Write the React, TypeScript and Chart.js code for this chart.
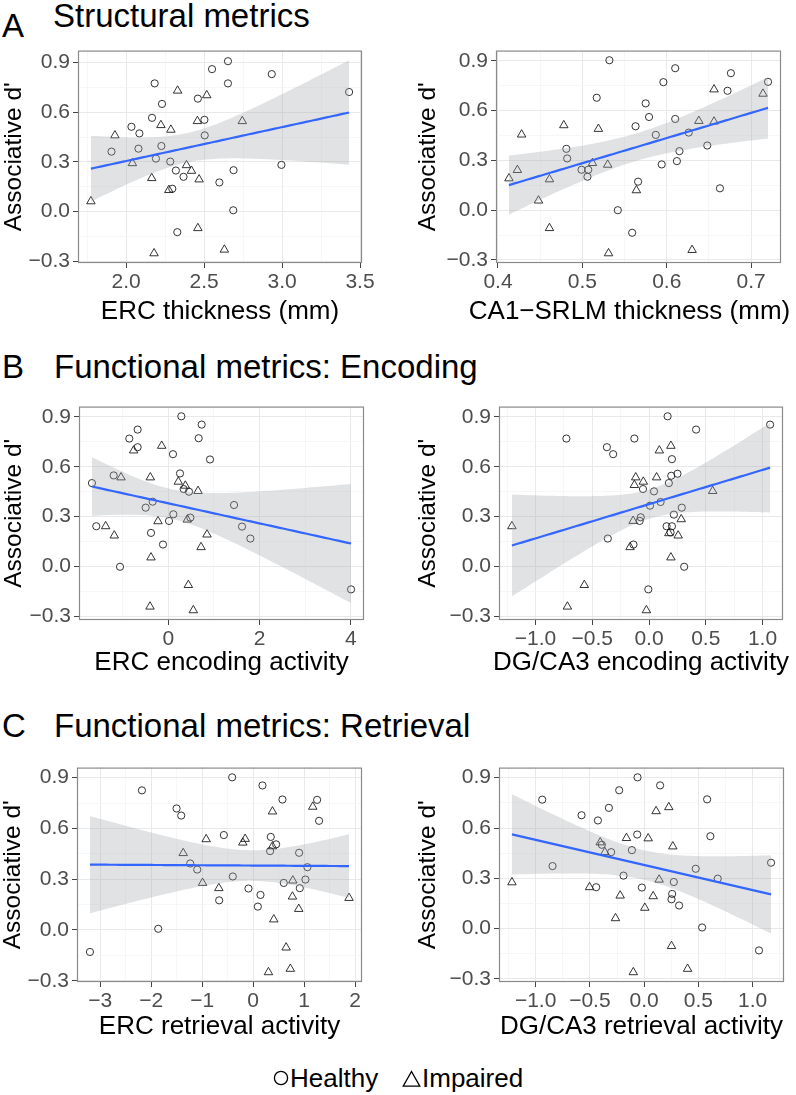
import React, { useEffect, useRef } from "react";
import { Chart, registerables } from "chart.js";

Chart.register(...registerables);

const FONT = '"Liberation Sans", Arial, Helvetica, sans-serif';
Chart.defaults.font.family = FONT;

// ---------------- Data ----------------
// A left: ERC thickness (mm)
const ercThickHealthyX = [3.43, 2.934, 2.996, 2.653, 2.551, 2.653, 2.46, 2.502, 2.504, 2.183, 2.23, 2.166, 2.034, 2.085, 2.079, 1.906, 2.226, 2.191, 2.283, 2.319, 2.368, 2.296, 2.598, 2.689, 2.687, 2.328];
const ercThickHealthyY = [0.722, 0.83, 0.282, 0.908, 0.86, 0.774, 0.682, 0.554, 0.46, 0.774, 0.65, 0.566, 0.512, 0.472, 0.38, 0.362, 0.396, 0.32, 0.302, 0.248, 0.21, 0.138, 0.176, 0.25, 0.008, -0.124];
const ercThickImpairedX = [1.774, 1.928, 2.04, 2.164, 2.179, 2.223, 2.287, 2.33, 2.274, 2.387, 2.419, 2.468, 2.457, 2.517, 2.745, 2.46, 2.63];
const ercThickImpairedY = [0.062, 0.46, 0.292, 0.202, -0.252, 0.522, 0.494, 0.73, 0.13, 0.28, 0.246, 0.194, 0.546, 0.702, 0.546, -0.1, -0.23];

// A right: CA1-SRLM thickness (mm)
const ca1HealthyX = [0.532, 0.517, 0.61, 0.596, 0.676, 0.72, 0.672, 0.575, 0.579, 0.563, 0.61, 0.587, 0.626, 0.648, 0.615, 0.612, 0.594, 0.481, 0.482, 0.499, 0.507, 0.506, 0.566, 0.663, 0.542, 0.559];
const ca1HealthyY = [0.904, 0.678, 0.856, 0.772, 0.826, 0.774, 0.72, 0.644, 0.562, 0.506, 0.55, 0.454, 0.468, 0.39, 0.356, 0.296, 0.276, 0.37, 0.312, 0.244, 0.244, 0.202, 0.172, 0.132, 0.0, -0.136];
const ca1ImpairedX = [0.413, 0.423, 0.428, 0.448, 0.461, 0.461, 0.478, 0.512, 0.519, 0.53, 0.531, 0.564, 0.63, 0.638, 0.656, 0.656, 0.714];
const ca1ImpairedY = [0.192, 0.242, 0.456, 0.058, 0.186, -0.108, 0.512, 0.284, 0.49, 0.274, -0.26, 0.12, -0.24, 0.538, 0.534, 0.728, 0.702];

// B left: ERC encoding activity
const ercEncHealthyX = [-1.675, -1.58, -1.199, -1.06, -0.856, -0.673, -0.673, -0.497, -0.344, -0.38, -0.117, 0.102, 0.11, 0.015, 0.285, 0.256, 0.336, 0.453, 0.483, 0.731, 0.665, 0.914, 1.441, 1.616, 1.799, 4.007];
const ercEncHealthyY = [0.502, 0.242, 0.548, -0.002, 0.77, 0.824, 0.718, 0.354, 0.39, 0.202, 0.132, 0.676, 0.314, 0.274, 0.904, 0.56, 0.466, 0.45, 0.294, 0.854, 0.772, 0.644, 0.37, 0.24, 0.168, -0.138];
const ercEncImpairedX = [-1.375, -1.185, -1.038, -0.761, -0.395, -0.38, -0.402, -0.227, -0.146, 0.219, 0.373, 0.417, 0.439, 0.548, 0.651, 0.717, 0.848];
const ercEncImpairedY = [0.242, 0.186, 0.536, 0.698, 0.536, 0.054, -0.242, 0.272, 0.726, 0.51, 0.486, 0.282, -0.112, -0.264, 0.454, 0.116, 0.192];

// B right: DG/CA3 encoding activity
const dgEncHealthyX = [-0.728, -0.371, -0.316, -0.129, 0.164, 0.415, 1.067, 0.202, 0.196, 0.251, 0.175, -0.053, 0.044, 0.009, 0.102, 0.289, 0.219, -0.073, -0.082, 0.155, 0.202, 0.19, -0.363, -0.137, 0.31, -0.006];
const dgEncHealthyY = [0.77, 0.718, 0.676, 0.77, 0.904, 0.824, 0.854, 0.646, 0.546, 0.558, 0.502, 0.466, 0.452, 0.366, 0.388, 0.354, 0.312, 0.296, 0.274, 0.242, 0.242, 0.205, 0.168, 0.132, -0.002, -0.138];
const dgEncImpairedX = [-1.208, -0.57, -0.719, -0.023, -0.167, -0.14, -0.129, -0.117, -0.05, 0.067, 0.091, 0.193, 0.193, 0.175, 0.257, 0.284, 0.561];
const dgEncImpairedY = [0.242, -0.112, -0.242, -0.264, 0.116, 0.274, 0.49, 0.536, 0.51, 0.536, 0.698, 0.726, 0.054, 0.2, 0.186, 0.284, 0.454];

// C left: ERC retrieval activity
const ercRetHealthyX = [-2.183, -1.503, -1.412, -1.863, -3.203, -1.235, -1.098, -0.575, -0.412, -0.399, -0.092, -0.667, 0.144, 0.092, 0.183, 0.575, 0.346, 0.333, 0.451, 0.601, 0.902, 1.065, 1.026, 0.915, 1.255, 1.294];
const ercRetHealthyY = [0.825, 0.718, 0.676, 0.007, -0.13, 0.393, 0.357, 0.561, 0.902, 0.316, 0.245, 0.175, 0.207, 0.138, 0.854, 0.771, 0.55, 0.466, 0.506, 0.278, 0.456, 0.371, 0.298, 0.247, 0.769, 0.645];
const ercRetImpairedX = [-1.373, -0.922, -0.993, -0.673, -0.203, -0.157, 0.379, 0.379, 0.778, 0.771, 0.895, 0.405, 0.647, 1.17, 1.882, 0.3, 0.73];
const ercRetImpairedY = [0.454, 0.536, 0.278, 0.247, 0.516, 0.538, 0.7, 0.494, 0.292, 0.197, 0.124, 0.062, -0.104, 0.728, 0.189, -0.25, -0.23];

// C right: DG/CA3 retrieval activity
const dgRetHealthyX = [-0.939, -0.844, -0.577, -0.426, -0.325, -0.23, -0.061, 0.147, 0.58, 0.61, -0.064, -0.113, -0.304, -0.39, 0.475, 0.678, 1.169, -0.19, -0.442, -0.021, 0.273, 0.258, 0.252, 0.322, 0.534, 1.058];
const dgRetHealthyY = [0.769, 0.373, 0.676, 0.645, 0.72, 0.825, 0.902, 0.854, 0.771, 0.551, 0.561, 0.468, 0.456, 0.5, 0.357, 0.298, 0.393, 0.316, 0.247, 0.245, 0.278, 0.207, 0.175, 0.138, 0.007, -0.13];
const dgRetImpairedX = [-1.218, -0.503, -0.405, -0.362, -0.163, 0.037, 0.11, 0.227, 0.264, 0.138, -0.221, 0.083, 0.006, -0.264, 0.252, -0.1, 0.4];
const dgRetImpairedY = [0.276, 0.247, 0.514, 0.456, 0.54, 0.538, 0.7, 0.724, 0.49, 0.292, 0.197, 0.193, 0.124, 0.062, -0.104, -0.26, -0.24];

// Axis ticks
const yMajor = [-0.3, 0, 0.3, 0.6, 0.9];
const yLabels = ["\u22120.3", "0.0", "0.3", "0.6", "0.9"];
const yMinor = [-0.15, 0.15, 0.45, 0.75];

const ercThickTicks = [2.0, 2.5, 3.0, 3.5];
const ercThickLabels = ["2.0", "2.5", "3.0", "3.5"];
const ercThickMinor = [1.75, 2.25, 2.75, 3.25];

const ca1Ticks = [0.4, 0.5, 0.6, 0.7];
const ca1Labels = ["0.4", "0.5", "0.6", "0.7"];
const ca1Minor = [0.45, 0.55, 0.65];

const ercEncTicks = [0, 2, 4];
const ercEncLabels = ["0", "2", "4"];
const ercEncMinor = [-1, 1, 3];

const dgTicks = [-1.0, -0.5, 0.0, 0.5, 1.0];
const dgLabels = ["\u22121.0", "\u22120.5", "0.0", "0.5", "1.0"];
const dgEncMinor = [-1.25, -0.75, -0.25, 0.25, 0.75];
const dgRetMinor = [-1.25, -0.75, -0.25, 0.25, 0.75, 1.25];

const ercRetTicks = [-3, -2, -1, 0, 1, 2];
const ercRetLabels = ["\u22123", "\u22122", "\u22121", "0", "1", "2"];
const ercRetMinor = [-2.5, -1.5, -0.5, 0.5, 1.5];

const Y_TITLE = "Associative d'";
const LEGEND_LABELS = ["Healthy", "Impaired"];

// ---------------- Styling constants ----------------
const Y_TITLE_SIZE = 24.5;
const X_TITLE_SIZE = 26;
const TICK_SIZE = 21;
const HEAD_SIZE = 33;
const T_CRIT = 2.02; // t(0.975, df ~ 41) used by lm smoother
const PAD_TOP = 14;
const PAD_RIGHT = 26;

type Frame = { left: number; top: number; width: number; height: number };
type Panel = {
  id: string;
  hx: number[]; hy: number[]; ix: number[]; iy: number[];
  xTicks: number[]; xLabels: string[]; xMinor: number[];
  xTitle: string;
  frame: Frame;
  yTitleCX: number;
  xTitleCY: number;
  xTitleShift?: number;
};

const panels: Panel[] = [
  { id: "a1", hx: ercThickHealthyX, hy: ercThickHealthyY, ix: ercThickImpairedX, iy: ercThickImpairedY,
    xTicks: ercThickTicks, xLabels: ercThickLabels, xMinor: ercThickMinor, xTitle: "ERC thickness (mm)",
    frame: { left: 78, top: 49, width: 284, height: 214 }, yTitleCX: 14.5, xTitleCY: 311.5 },
  { id: "a2", hx: ca1HealthyX, hy: ca1HealthyY, ix: ca1ImpairedX, iy: ca1ImpairedY,
    xTicks: ca1Ticks, xLabels: ca1Labels, xMinor: ca1Minor, xTitle: "CA1\u2212SRLM thickness (mm)",
    frame: { left: 496, top: 49, width: 285, height: 214 }, yTitleCX: 428.5, xTitleCY: 311.5, xTitleShift: -9 },
  { id: "b1", hx: ercEncHealthyX, hy: ercEncHealthyY, ix: ercEncImpairedX, iy: ercEncImpairedY,
    xTicks: ercEncTicks, xLabels: ercEncLabels, xMinor: ercEncMinor, xTitle: "ERC encoding activity",
    frame: { left: 79, top: 405, width: 285, height: 215 }, yTitleCX: 14.5, xTitleCY: 662.5 },
  { id: "b2", hx: dgEncHealthyX, hy: dgEncHealthyY, ix: dgEncImpairedX, iy: dgEncImpairedY,
    xTicks: dgTicks, xLabels: dgLabels, xMinor: dgEncMinor, xTitle: "DG/CA3 encoding activity",
    frame: { left: 499, top: 405, width: 284, height: 215 }, yTitleCX: 428.5, xTitleCY: 662.5 },
  { id: "c1", hx: ercRetHealthyX, hy: ercRetHealthyY, ix: ercRetImpairedX, iy: ercRetImpairedY,
    xTicks: ercRetTicks, xLabels: ercRetLabels, xMinor: ercRetMinor, xTitle: "ERC retrieval activity",
    frame: { left: 77, top: 766, width: 285, height: 216 }, yTitleCX: 14, xTitleCY: 1027 },
  { id: "c2", hx: dgRetHealthyX, hy: dgRetHealthyY, ix: dgRetImpairedX, iy: dgRetImpairedY,
    xTicks: dgTicks, xLabels: dgLabels, xMinor: dgRetMinor, xTitle: "DG/CA3 retrieval activity",
    frame: { left: 499, top: 766, width: 285, height: 216 }, yTitleCX: 428.5, xTitleCY: 1027 },
];

// Linear-model smoother (like geom_smooth(method = "lm")) computed from the points
function lmBand(xs: number[], ys: number[], steps = 80) {
  const n = xs.length;
  const xm = xs.reduce((a, b) => a + b, 0) / n;
  const ym = ys.reduce((a, b) => a + b, 0) / n;
  let sxx = 0, sxy = 0;
  for (let i = 0; i < n; i++) {
    sxx += (xs[i] - xm) ** 2;
    sxy += (xs[i] - xm) * (ys[i] - ym);
  }
  const b = sxy / sxx;
  const a = ym - b * xm;
  let sse = 0;
  for (let i = 0; i < n; i++) sse += (ys[i] - (a + b * xs[i])) ** 2;
  const s = Math.sqrt(sse / (n - 2));
  const x0 = Math.min(...xs), x1 = Math.max(...xs);
  const fit: { x: number; y: number }[] = [];
  const upper: { x: number; y: number }[] = [];
  const lower: { x: number; y: number }[] = [];
  for (let i = 0; i <= steps; i++) {
    const x = x0 + ((x1 - x0) * i) / steps;
    const yh = a + b * x;
    const se = s * Math.sqrt(1 / n + (x - xm) ** 2 / sxx);
    fit.push({ x, y: yh });
    upper.push({ x, y: yh + T_CRIT * se });
    lower.push({ x, y: yh - T_CRIT * se });
  }
  return { fit, upper, lower };
}

const near = (arr: number[], v: number) => arr.findIndex((t) => Math.abs(t - v) < 1e-9);

const framePlugin = {
  id: "panelFrame",
  afterDatasetsDraw(chart: any) {
    const { ctx, chartArea: c } = chart;
    ctx.save();
    ctx.strokeStyle = "#8a8a8a";
    ctx.lineWidth = 1.2;
    ctx.strokeRect(c.left + 0.5, c.top + 0.5, c.right - c.left - 1, c.bottom - c.top - 1);
    ctx.restore();
  },
};

const xTitlePlugin = {
  id: "xTitle",
  afterDraw(chart: any, _args: any, opts: any) {
    const { ctx, chartArea: c } = chart;
    ctx.save();
    ctx.font = `${X_TITLE_SIZE}px ${FONT}`;
    ctx.fillStyle = "#000";
    ctx.textAlign = "center";
    ctx.textBaseline = "middle";
    ctx.fillText(opts.text, (c.left + c.right) / 2 + (opts.shift || 0), opts.y);
    ctx.restore();
  },
};

function PanelChart({ p }: { p: Panel }) {
  const ref = useRef<HTMLCanvasElement>(null);
  const yBoxW = Math.round(p.frame.left - p.yTitleCX + (Y_TITLE_SIZE * 1.2) / 2);
  const xBoxH = Math.round(p.xTitleCY - (p.frame.top + p.frame.height) + 18);
  const cLeft = p.frame.left - yBoxW;
  const cTop = p.frame.top - PAD_TOP;
  const cW = yBoxW + p.frame.width + PAD_RIGHT;
  const cH = PAD_TOP + p.frame.height + xBoxH;

  useEffect(() => {
    const allX = [...p.hx, ...p.ix];
    const allY = [...p.hy, ...p.iy];
    const band = lmBand(allX, allY);
    const xmin0 = Math.min(...allX), xmax0 = Math.max(...allX);
    const ymin0 = Math.min(...allY, ...band.lower.map((d) => d.y));
    const ymax0 = Math.max(...allY, ...band.upper.map((d) => d.y));
    const xe = (xmax0 - xmin0) * 0.05, ye = (ymax0 - ymin0) * 0.05;

    const xAll = [...p.xTicks, ...p.xMinor].sort((a, b) => a - b);
    const yAll = [...yMajor, ...yMinor].sort((a, b) => a - b);

    const gridOpts = (major: number[]) => ({
      drawOnChartArea: true,
      drawTicks: true,
      tickLength: 5,
      color: (ctx: any) => (near(major, ctx.tick?.value) >= 0 ? "#e9e9e9" : "#f4f4f4"),
      lineWidth: (ctx: any) => (near(major, ctx.tick?.value) >= 0 ? 1 : 0.7),
      tickColor: (ctx: any) => (near(major, ctx.tick?.value) >= 0 ? "#444" : "rgba(0,0,0,0)"),
      tickWidth: 1,
    });

    const chart = new Chart(ref.current as HTMLCanvasElement, {
      type: "line",
      data: {
        datasets: [
          { data: band.fit, borderColor: "#3366FF", borderWidth: 2.2, pointRadius: 0, fill: false, tension: 0, order: 0 },
          { data: band.upper, borderColor: "rgba(0,0,0,0)", borderWidth: 1, pointRadius: 0, fill: "+1", backgroundColor: "rgba(160,165,168,0.32)", tension: 0, order: 1 },
          { data: band.lower, borderColor: "rgba(0,0,0,0)", borderWidth: 1, pointRadius: 0, fill: false, tension: 0, order: 2 },
          { data: p.hx.map((x, i) => ({ x, y: p.hy[i] })), showLine: false, pointStyle: "circle", pointRadius: 3.6, pointBorderWidth: 0.9, pointBorderColor: "#1e1e1e", pointBackgroundColor: "rgba(0,0,0,0)", order: 3 },
          { data: p.ix.map((x, i) => ({ x, y: p.iy[i] })), showLine: false, pointStyle: "triangle", pointRadius: 4.9, pointBorderWidth: 0.9, pointBorderColor: "#1e1e1e", pointBackgroundColor: "rgba(0,0,0,0)", order: 3 },
        ] as any,
      },
      options: {
        animation: false,
        responsive: false,
        events: [],
        layout: { padding: { top: PAD_TOP, right: PAD_RIGHT, left: 0, bottom: 0 } },
        plugins: {
          legend: { display: false },
          tooltip: { enabled: false },
          xTitle: { text: p.xTitle, y: p.xTitleCY - cTop, shift: p.xTitleShift || 0 },
        } as any,
        scales: {
          x: {
            type: "linear",
            min: xmin0 - xe,
            max: xmax0 + xe,
            border: { display: false },
            grid: gridOpts(p.xTicks) as any,
            afterBuildTicks: (scale: any) => {
              scale.ticks = xAll.map((v) => ({ value: v }));
            },
            afterFit: (scale: any) => {
              scale.height = xBoxH;
            },
            ticks: {
              autoSkip: false,
              maxRotation: 0,
              minRotation: 0,
              padding: 2,
              color: "#4d4d4d",
              font: { size: TICK_SIZE, family: FONT },
              callback: (v: any) => {
                const k = near(p.xTicks, Number(v));
                return k >= 0 ? p.xLabels[k] : "";
              },
            },
          },
          y: {
            type: "linear",
            min: ymin0 - ye,
            max: ymax0 + ye,
            border: { display: false },
            grid: gridOpts(yMajor) as any,
            afterBuildTicks: (scale: any) => {
              scale.ticks = yAll.map((v) => ({ value: v }));
            },
            afterFit: (scale: any) => {
              scale.width = yBoxW;
            },
            title: {
              display: true,
              text: Y_TITLE,
              color: "#000",
              padding: 0,
              font: { size: Y_TITLE_SIZE, family: FONT },
            },
            ticks: {
              autoSkip: false,
              padding: 3,
              color: "#4d4d4d",
              font: { size: TICK_SIZE, family: FONT },
              callback: (v: any) => {
                const k = near(yMajor, Number(v));
                return k >= 0 ? yLabels[k] : "";
              },
            },
          },
        },
      } as any,
      plugins: [framePlugin, xTitlePlugin] as any,
    });
    return () => chart.destroy();
  }, []);

  return (
    <canvas
      ref={ref}
      width={cW}
      height={cH}
      style={{ position: "absolute", left: cLeft, top: cTop, width: cW, height: cH }}
    />
  );
}

const headStyle = (left: number, top: number, size: number): React.CSSProperties => ({
  position: "absolute",
  left,
  top,
  fontSize: size,
  lineHeight: `${size}px`,
  fontFamily: FONT,
  color: "#000",
  whiteSpace: "nowrap",
});

export default function App() {
  return (
    <div
      style={{
        position: "absolute",
        left: 0,
        top: 0,
        width: 796,
        height: 1095,
        overflow: "hidden",
        background: "#fff",
        fontFamily: FONT,
      }}
    >
      <div style={headStyle(2, 9, HEAD_SIZE)}>A</div>
      <div style={headStyle(53, -1.2, HEAD_SIZE)}>Structural metrics</div>
      <div style={headStyle(2, 350.4, HEAD_SIZE)}>B</div>
      <div style={headStyle(54, 350.4, HEAD_SIZE)}>Functional metrics: Encoding</div>
      <div style={headStyle(2, 709.4, HEAD_SIZE)}>C</div>
      <div style={headStyle(54, 709.4, HEAD_SIZE)}>Functional metrics: Retrieval</div>

      {panels.map((p) => (
        <PanelChart key={p.id} p={p} />
      ))}

      <svg style={{ position: "absolute", left: 272, top: 1069 }} width={18} height={18}>
        <circle cx={9} cy={9} r={6.6} fill="none" stroke="#000" strokeWidth={1.3} />
      </svg>
      <div style={headStyle(290, 1065.3, 26)}>{LEGEND_LABELS[0]}</div>
      <svg style={{ position: "absolute", left: 402, top: 1070 }} width={19} height={18}>
        <polygon points="9.5,1.5 17.8,16.2 1.2,16.2" fill="none" stroke="#000" strokeWidth={1.3} />
      </svg>
      <div style={headStyle(422, 1065.3, 26)}>{LEGEND_LABELS[1]}</div>
    </div>
  );
}
